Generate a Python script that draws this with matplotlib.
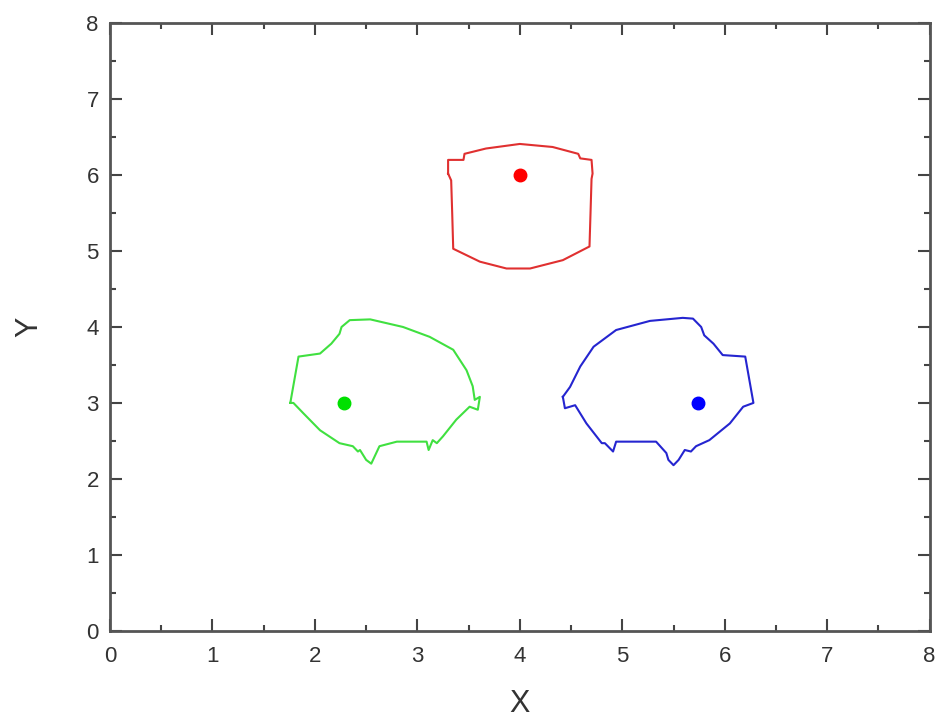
import matplotlib.pyplot as plt
from matplotlib.ticker import MultipleLocator

plt.rcParams['font.family'] = ['Liberation Sans', 'DejaVu Sans']

# outlines (closed polygons)
red_x = [3.30, 3.30, 3.45, 3.46, 3.67, 4.00, 4.32, 4.57, 4.59, 4.70, 4.71, 4.70,
         4.69, 4.68, 4.42, 4.10, 3.87, 3.61, 3.35, 3.34, 3.33, 3.30]
red_y = [6.02, 6.20, 6.20, 6.28, 6.35, 6.41, 6.37, 6.28, 6.22, 6.20, 6.02, 5.95,
         5.50, 5.06, 4.88, 4.77, 4.77, 4.86, 5.03, 5.50, 5.93, 6.02]

green_x = [1.76, 1.84, 2.05, 2.16, 2.24, 2.26, 2.34, 2.54, 2.86, 3.12, 3.35, 3.48,
           3.54, 3.56, 3.61, 3.59, 3.51, 3.38, 3.25, 3.19, 3.15, 3.11, 3.09, 2.80,
           2.63, 2.55, 2.50, 2.44, 2.42, 2.37, 2.24, 2.05, 1.89, 1.79, 1.76]
green_y = [3.00, 3.61, 3.65, 3.78, 3.91, 4.00, 4.09, 4.10, 4.00, 3.87, 3.70, 3.43,
           3.22, 3.04, 3.08, 2.91, 2.95, 2.78, 2.56, 2.47, 2.51, 2.38, 2.49, 2.49,
           2.43, 2.20, 2.25, 2.38, 2.36, 2.43, 2.47, 2.64, 2.86, 3.00, 3.00]

blue_x = [4.42, 4.44, 4.54, 4.65, 4.80, 4.83, 4.91, 4.94, 5.33, 5.43, 5.45, 5.50,
          5.55, 5.61, 5.67, 5.72, 5.85, 6.05, 6.18, 6.28, 6.20, 5.98, 5.89, 5.80,
          5.77, 5.69, 5.59, 5.27, 4.94, 4.72, 4.59, 4.49, 4.42]
blue_y = [3.08, 2.93, 2.97, 2.73, 2.47, 2.47, 2.36, 2.49, 2.49, 2.34, 2.25, 2.18,
          2.25, 2.38, 2.36, 2.43, 2.51, 2.73, 2.95, 3.00, 3.61, 3.63, 3.78, 3.89,
          4.00, 4.11, 4.12, 4.08, 3.96, 3.74, 3.48, 3.21, 3.08]

# centre points
centre_x = [4.00, 2.28, 5.74]
centre_y = [6.00, 3.00, 3.00]
colors = ['#ff0000', '#00e000', '#0000ff']

fig = plt.figure(figsize=(9.4, 7.25), dpi=100)
ax = fig.add_axes([0.117, 0.130, 0.872, 0.838])

ax.plot(red_x, red_y, color='#e03030', lw=1.5)
ax.plot(green_x, green_y, color='#40e040', lw=1.5)
ax.plot(blue_x, blue_y, color='#2525d0', lw=1.5)
for cx, cy, c in zip(centre_x, centre_y, colors):
    ax.plot(cx, cy, 'o', color=c, ms=9)

ax.set_xlim(0, 8)
ax.set_ylim(0, 8)
ax.xaxis.set_major_locator(MultipleLocator(1))
ax.yaxis.set_major_locator(MultipleLocator(1))
ax.xaxis.set_minor_locator(MultipleLocator(0.5))
ax.yaxis.set_minor_locator(MultipleLocator(0.5))
ax.tick_params(which='both', direction='in', top=True, right=True, color='#444444', width=1.5)
ax.tick_params(which='major', length=8.5, labelsize=16, labelcolor='#333333')
ax.tick_params(which='minor', length=4.5)
ax.tick_params(axis='x', which='major', pad=11)
ax.tick_params(axis='y', which='major', pad=8)
for s in ax.spines.values():
    s.set_color('#555555')
    s.set_linewidth(2)

ax.set_xlabel('X', fontsize=22, labelpad=16, color='#333333')
ax.set_ylabel('Y', fontsize=22, labelpad=30, color='#333333')

fig.savefig('out.png', dpi=100)
